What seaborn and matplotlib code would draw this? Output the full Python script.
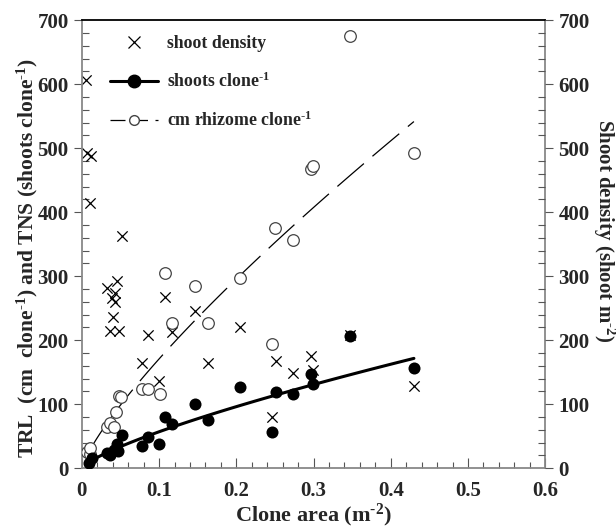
import numpy as np
import pandas as pd
import matplotlib
matplotlib.use('Agg')
import matplotlib.pyplot as plt
import seaborn as sns
from matplotlib.lines import Line2D
from matplotlib.ticker import MultipleLocator

# shoot density (x markers), right axis
dens_area = [0.005, 0.007, 0.012, 0.011, 0.052, 0.046, 0.033, 0.043, 0.039, 0.043, 0.040, 0.037, 0.048,
             0.086, 0.117, 0.078, 0.100, 0.108, 0.147, 0.163, 0.205, 0.251, 0.246, 0.274, 0.297, 0.299,
             0.347, 0.430]
dens_val = [607, 493, 488, 415, 363, 293, 282, 273, 266, 259, 236, 215, 215,
            208, 212, 165, 136, 268, 245, 165, 220, 168, 80, 149, 175, 154,
            208, 128]

# shoots per clone (filled circles)
tns_area = [0.009, 0.013, 0.033, 0.037, 0.042, 0.046, 0.047, 0.052, 0.078, 0.086, 0.100, 0.108, 0.117,
            0.147, 0.163, 0.205, 0.246, 0.251, 0.274, 0.297, 0.299, 0.347, 0.430]
tns_val = [8, 16, 24, 21, 29, 37, 27, 52, 35, 49, 37, 80, 69,
           101, 76, 127, 57, 119, 116, 147, 131, 207, 157]

# cm rhizome per clone (open circles)
trl_area = [0.006, 0.010, 0.011, 0.032, 0.037, 0.041, 0.044, 0.048, 0.051, 0.078, 0.086, 0.101, 0.107,
            0.117, 0.147, 0.163, 0.205, 0.246, 0.250, 0.274, 0.297, 0.299, 0.347, 0.430]
trl_val = [26, 22, 31, 64, 71, 64, 87, 113, 111, 123, 123, 116, 305,
           227, 284, 227, 297, 194, 375, 356, 467, 472, 675, 493]


def power_fit(x, y, n=100):
    b, a = np.polyfit(np.log(x), np.log(y), 1)
    xs = np.linspace(min(x), max(x), n)
    return xs, np.exp(a) * xs ** b


sns.set_style("ticks")
plt.rcParams['font.family'] = ['Liberation Serif', 'DejaVu Serif']
plt.rcParams['font.weight'] = 'bold'
plt.rcParams['mathtext.fontset'] = 'custom'
plt.rcParams['mathtext.rm'] = 'Liberation Serif:bold'
plt.rcParams['mathtext.default'] = 'rm'

fig = plt.figure(figsize=(6.16, 5.29), dpi=100)
ax = fig.add_axes([0.133, 0.115, 0.752, 0.847])

dash = (0, (28, 9))
xs1, ys1 = power_fit(tns_area, tns_val)
xs2, ys2 = power_fit(trl_area, trl_val)

sns.lineplot(x=xs1, y=ys1, ax=ax, color='black', lw=2.2)
sns.lineplot(x=xs2, y=ys2, ax=ax, color='black', lw=0.9, linestyle=dash)

sns.scatterplot(x=dens_area, y=dens_val, ax=ax, marker='x', color='black', s=55, linewidth=0.9)
sns.scatterplot(x=trl_area, y=trl_val, ax=ax, marker='o', facecolor='white', edgecolor='#444444',
                s=70, linewidth=0.9, zorder=3)
sns.scatterplot(x=tns_area, y=tns_val, ax=ax, marker='o', color='black', s=75, linewidth=0, zorder=4)

ax.set_xlim(0, 0.6)
ax.set_ylim(0, 700)
ax.xaxis.set_minor_locator(MultipleLocator(0.02))
ax.yaxis.set_major_locator(MultipleLocator(100))
ax.yaxis.set_minor_locator(MultipleLocator(20))
ax.set_xticks([0, 0.1, 0.2, 0.3, 0.4, 0.5, 0.6])
ax.set_xticklabels(['0', '0.1', '0.2', '0.3', '0.4', '0.5', '0.6'])
ax.tick_params(axis='x', which='major', direction='in', length=7, width=0.8, labelsize=15, pad=9, color='#555555')
ax.tick_params(axis='x', which='minor', direction='in', length=4, width=0.8, color='#555555')
ax.tick_params(axis='y', which='major', direction='out', length=6, width=0.8, labelsize=15, color='#555555')
ax.tick_params(axis='y', which='minor', direction='in', length=5, width=0.8, color='#555555')

sup1 = r'$^{\text{-1}}$'
sup2 = r'$^{\text{-2}}$'
ax.set_xlabel('Clone area (m' + sup2 + ')', fontsize=16, fontweight='bold', va='center')
ax.xaxis.set_label_coords(0.5, -0.105)
ax.set_ylabel('TRL  (cm  clone' + sup1 + ') and TNS (shoots clone' + sup1 + ')',
              fontsize=15.5, fontweight='bold', va='center')
ax.yaxis.set_label_coords(-0.118, 0.47)

for side in ['left', 'bottom', 'right']:
    ax.spines[side].set_color('#888888')
    ax.spines[side].set_linewidth(1.3)
ax.spines['top'].set_color('black')
ax.spines['top'].set_linewidth(1.3)

ax2 = ax.twinx()
ax2.set_ylim(0, 700)
ax2.yaxis.set_major_locator(MultipleLocator(100))
ax2.yaxis.set_minor_locator(MultipleLocator(20))
ax2.tick_params(axis='y', which='major', direction='out', length=6, width=0.8, labelsize=15, color='#555555')
ax2.tick_params(axis='y', which='minor', direction='in', length=5, width=0.8, color='#555555')
ax2.set_ylabel('Shoot density (shoot m' + sup2 + ')', fontsize=15, fontweight='bold',
               rotation=270, va='center')
ax2.yaxis.set_label_coords(1.127, 0.53)
for side in ['left', 'bottom', 'right', 'top']:
    ax2.spines[side].set_visible(False)

handles = [
    Line2D([], [], marker='x', color='black', linestyle='none', markersize=8, markeredgewidth=0.9),
    Line2D([], [], marker='o', color='black', lw=2.2, markersize=9),
    Line2D([], [], marker='o', color='black', lw=0.9, linestyle=(0, (12, 6)), markersize=7,
           markerfacecolor='white', markeredgecolor='#444444'),
]
labels = ['shoot density', 'shoots clone' + sup1, 'cm rhizome clone' + sup1]
ax.legend(handles, labels, loc='upper left', bbox_to_anchor=(110 / 616, 0.933),
          bbox_transform=fig.transFigure, frameon=False, borderpad=0, borderaxespad=0,
          fontsize=12.8, handlelength=2.7, labelspacing=1.1, handletextpad=0.5)

fig.savefig('out.png', dpi=100)
